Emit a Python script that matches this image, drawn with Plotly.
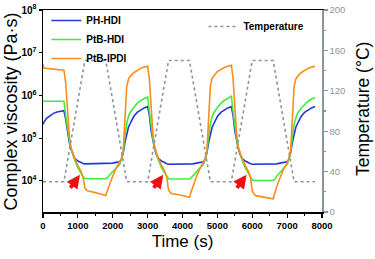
import plotly.graph_objects as go
import math

time_s = [0, 20, 100, 200, 300, 400, 500, 600,
          650, 700, 750, 800, 850, 900, 1000, 1100, 1150, 1200, 1250, 1300, 1500, 1700, 1800, 1850, 1900, 2000, 2100, 2200, 2250, 2300, 2350, 2400, 2450, 2500, 2600, 2700, 2800, 2900, 3000,
          3050, 3100, 3150, 3200, 3250, 3300, 3400, 3500, 3550, 3600, 3650, 3700, 3900, 4100, 4200, 4250, 4300, 4400, 4500, 4600, 4650, 4700, 4750, 4800, 4850, 4900, 5000, 5100, 5200, 5300, 5400,
          5450, 5500, 5550, 5600, 5650, 5700, 5800, 5900, 5950, 6000, 6050, 6100, 6300, 6500, 6600, 6650, 6700, 6800, 6900, 7000, 7050, 7100, 7150, 7200, 7250, 7300, 7400, 7500, 7600, 7700, 7800]

ph_hdi = [2.1e5, 2.3e5, 2.9e5, 3.4e5, 3.8e5, 4.1e5, 4.3e5, 4.4e5,
          2.8e5, 1.4e5, 8.3e4, 5.6e4, 4.2e4, 3.4e4, 2.9e4, 2.6e4, 2.55e4, 2.5e4, 2.5e4, 2.5e4, 2.5e4, 2.5e4, 2.5e4, 2.5e4, 2.55e4, 2.6e4, 2.7e4, 2.8e4, 3.2e4, 4.5e4, 8.0e4, 1.3e5, 1.8e5, 2.2e5, 3.2e5, 4.0e5, 4.6e5, 5.1e5, 5.5e5,
          3.4e5, 1.5e5, 8.5e4, 5.6e4, 4.2e4, 3.4e4, 2.9e4, 2.6e4, 2.5e4, 2.45e4, 2.45e4, 2.45e4, 2.45e4, 2.45e4, 2.45e4, 2.45e4, 2.5e4, 2.6e4, 2.7e4, 2.8e4, 3.2e4, 4.5e4, 8.0e4, 1.3e5, 1.8e5, 2.2e5, 3.2e5, 4.0e5, 4.6e5, 5.1e5, 5.5e5,
          3.4e5, 1.5e5, 8.5e4, 5.6e4, 4.2e4, 3.4e4, 2.9e4, 2.6e4, 2.5e4, 2.45e4, 2.45e4, 2.45e4, 2.45e4, 2.45e4, 2.45e4, 2.45e4, 2.5e4, 2.6e4, 2.7e4, 2.8e4, 3.2e4, 4.5e4, 8.0e4, 1.3e5, 1.8e5, 2.2e5, 3.2e5, 4.0e5, 4.6e5, 5.1e5, 5.5e5]

ptb_hdi = [7.4e5, 7.3e5, 7.3e5, 7.3e5, 7.3e5, 7.3e5, 7.3e5, 7.3e5,
           3.5e5, 1.6e5, 9.5e4, 6.0e4, 4.2e4, 3.2e4, 2.0e4, 1.45e4, 1.25e4, 1.15e4, 1.12e4, 1.12e4, 1.12e4, 1.12e4, 1.12e4, 1.2e4, 1.35e4, 1.65e4, 2.0e4, 2.4e4, 3.2e4, 5.0e4, 1.1e5, 2.2e5, 3.2e5, 4.0e5, 5.2e5, 6.5e5, 7.6e5, 8.5e5, 9.2e5,
           4.2e5, 1.8e5, 1.0e5, 6.2e4, 4.3e4, 3.2e4, 2.0e4, 1.45e4, 1.25e4, 1.12e4, 1.1e4, 1.1e4, 1.1e4, 1.1e4, 1.1e4, 1.18e4, 1.33e4, 1.62e4, 2.0e4, 2.4e4, 3.2e4, 5.0e4, 1.1e5, 2.2e5, 3.2e5, 4.0e5, 5.2e5, 6.5e5, 7.6e5, 8.7e5, 9.5e5,
           4.2e5, 1.8e5, 1.0e5, 6.2e4, 4.3e4, 3.2e4, 2.0e4, 1.4e4, 1.2e4, 1.05e4, 1.02e4, 1.02e4, 1.02e4, 1.02e4, 1.02e4, 1.1e4, 1.28e4, 1.58e4, 1.95e4, 2.4e4, 3.2e4, 5.0e4, 1.1e5, 2.1e5, 3.0e5, 3.8e5, 5.0e5, 6.2e5, 7.3e5, 8.2e5, 8.8e5]

ptb_ipdi = [5.3e6, 4.4e6, 4.3e6, 4.2e6, 4.1e6, 4.0e6, 3.95e6, 3.9e6,
            2.0e6, 4.5e5, 1.26e5, 6.0e4, 4.3e4, 3.5e4, 2.3e4, 1.6e4, 1.2e4, 6.8e3, 6.0e3, 5.8e3, 5.3e3, 4.8e3, 4.5e3, 6.0e3, 8.0e3, 1.3e4, 2.0e4, 2.7e4, 3.3e4, 5.0e4, 2.5e5, 1.6e6, 2.4e6, 2.8e6, 3.4e6, 3.9e6, 4.3e6, 4.6e6, 4.8e6,
            2.4e6, 5.0e5, 1.3e5, 6.0e4, 4.3e4, 3.5e4, 2.3e4, 1.6e4, 1.2e4, 6.0e3, 5.3e3, 5.0e3, 4.7e3, 4.3e3, 4.1e3, 5.6e3, 7.6e3, 1.25e4, 1.95e4, 2.7e4, 3.3e4, 5.0e4, 2.5e5, 1.7e6, 2.5e6, 2.9e6, 3.6e6, 4.1e6, 4.5e6, 4.8e6, 5.1e6,
            2.5e6, 5.0e5, 1.3e5, 6.0e4, 4.3e4, 3.5e4, 2.3e4, 1.6e4, 1.2e4, 5.8e3, 4.9e3, 4.5e3, 4.2e3, 4.0e3, 3.8e3, 5.3e3, 7.3e3, 1.2e4, 1.9e4, 2.6e4, 3.2e4, 5.0e4, 2.4e5, 1.6e6, 2.4e6, 2.8e6, 3.4e6, 3.9e6, 4.3e6, 4.6e6, 4.8e6]

temp_time = [0, 600, 1200, 1800, 2400, 3000, 3600, 4200, 4800, 5400, 6000, 6600, 7200, 7800]
temp_c = [30, 30, 150, 150, 30, 30, 150, 150, 30, 30, 150, 150, 30, 30]

arrow_tail_t = [754, 3143, 5530]
arrow_head_t = [1060, 3447, 5837]
arrow_tail_v = [6.3e3, 6.3e3, 6.3e3]
arrow_head_v = [1.38e4, 1.38e4, 1.38e4]

x_ticks = [0, 1000, 2000, 3000, 4000, 5000, 6000, 7000, 8000]
y_ticks = [1e4, 1e5, 1e6, 1e7, 1e8]
y_ticktext = ["10<sup>4</sup>", "10<sup>5</sup>", "10<sup>6</sup>", "10<sup>7</sup>", "10<sup>8</sup>"]
t_ticks = [0, 40, 80, 120, 160, 200]

x_title = "Time (s)"
y_title = "Complex viscosity (Pa·s)"
y2_title = "Temperature (°C)"

FONT = "Arial, Liberation Sans, sans-serif"
GREY = "#8a959c"

fig = go.Figure()
fig.add_trace(go.Scatter(x=time_s, y=ph_hdi, name="PH-HDI", mode="lines",
                         line=dict(color="#2238d8", width=1.6), legend="legend"))
fig.add_trace(go.Scatter(x=time_s, y=ptb_hdi, name="PtB-HDI", mode="lines",
                         line=dict(color="#3cef3c", width=1.6), legend="legend"))
fig.add_trace(go.Scatter(x=time_s, y=ptb_ipdi, name="PtB-IPDI", mode="lines",
                         line=dict(color="#ff8c1a", width=1.6), legend="legend"))
fig.add_trace(go.Scatter(x=temp_time, y=temp_c, name="Temperature", mode="lines", yaxis="y2",
                         line=dict(color=GREY, width=1.6, dash="dot"), legend="legend2"))

for tt, tv, ht, hv in zip(arrow_tail_t, arrow_tail_v, arrow_head_t, arrow_head_v):
    fig.add_annotation(x=ht, y=math.log10(hv), ax=tt, ay=math.log10(tv), xref="x", yref="y",
                       axref="x", ayref="y", showarrow=True, arrowhead=2, arrowsize=0.7,
                       arrowwidth=3.8, arrowcolor="#f01010", text="")

# vertical axis titles as rotated text
fig.add_annotation(text=y_title, xref="paper", yref="paper", x=-0.113, y=0.5,
                   xanchor="center", yanchor="middle", textangle=-90, showarrow=False,
                   font=dict(size=18, family=FONT, color="black"))
fig.add_annotation(text=y2_title, xref="paper", yref="paper", x=1.147, y=0.51,
                   xanchor="center", yanchor="middle", textangle=-90, showarrow=False,
                   font=dict(size=17.5, family=FONT, color="black"))

fig.update_layout(
    width=375, height=259,
    margin=dict(l=43, r=53, t=10, b=47, autoexpand=False),
    paper_bgcolor="white", plot_bgcolor="white",
    font=dict(family=FONT, color="black"),
    showlegend=True, hovermode=False,
    legend=dict(x=0.012, y=1.02, xanchor="left", yanchor="top", bgcolor="rgba(0,0,0,0)",
                font=dict(size=10, family=FONT, weight="bold"), tracegroupgap=0,
                itemwidth=30),
    legend2=dict(x=0.575, y=0.99, xanchor="left", yanchor="top", bgcolor="rgba(0,0,0,0)",
                 font=dict(size=10, family=FONT, weight="bold"), itemwidth=30),
    xaxis=dict(range=[0, 8000], tickvals=x_ticks, showline=True, linecolor="black", linewidth=1.5,
               mirror=True, ticks="outside", ticklen=4, tickwidth=1.2, tickcolor="black",
               minor=dict(dtick=500, ticks="outside", ticklen=2.5, tickcolor="black"),
               showgrid=False, zeroline=False, automargin=False,
               tickfont=dict(size=9.5, family=FONT, weight="bold"),
               title=dict(text=x_title, font=dict(size=17, family=FONT), standoff=5)),
    yaxis=dict(type="log", range=[3.27, 8.0], tickvals=y_ticks, ticktext=y_ticktext,
               showline=True, linecolor="black", linewidth=1.5, ticks="outside", ticklen=3,
               tickwidth=1.2, tickcolor="black", showgrid=False, zeroline=False, automargin=False,
               tickfont=dict(size=10, family=FONT, weight="bold")),
    yaxis2=dict(overlaying="y", side="right", range=[0, 200], tickvals=t_ticks,
                showline=True, linecolor=GREY, linewidth=1.5, ticks="outside", ticklen=4,
                tickwidth=1.2, tickcolor=GREY, showgrid=False, zeroline=False, automargin=False,
                minor=dict(dtick=20, ticks="outside", ticklen=2.5, tickcolor=GREY),
                tickfont=dict(size=9.5, family=FONT, color=GREY)),
)

fig.write_html("out.html", config={"displayModeBar": False, "staticPlot": True},
               post_script="document.body.style.margin='0px';document.body.style.padding='0px';document.body.style.overflow='hidden';")
